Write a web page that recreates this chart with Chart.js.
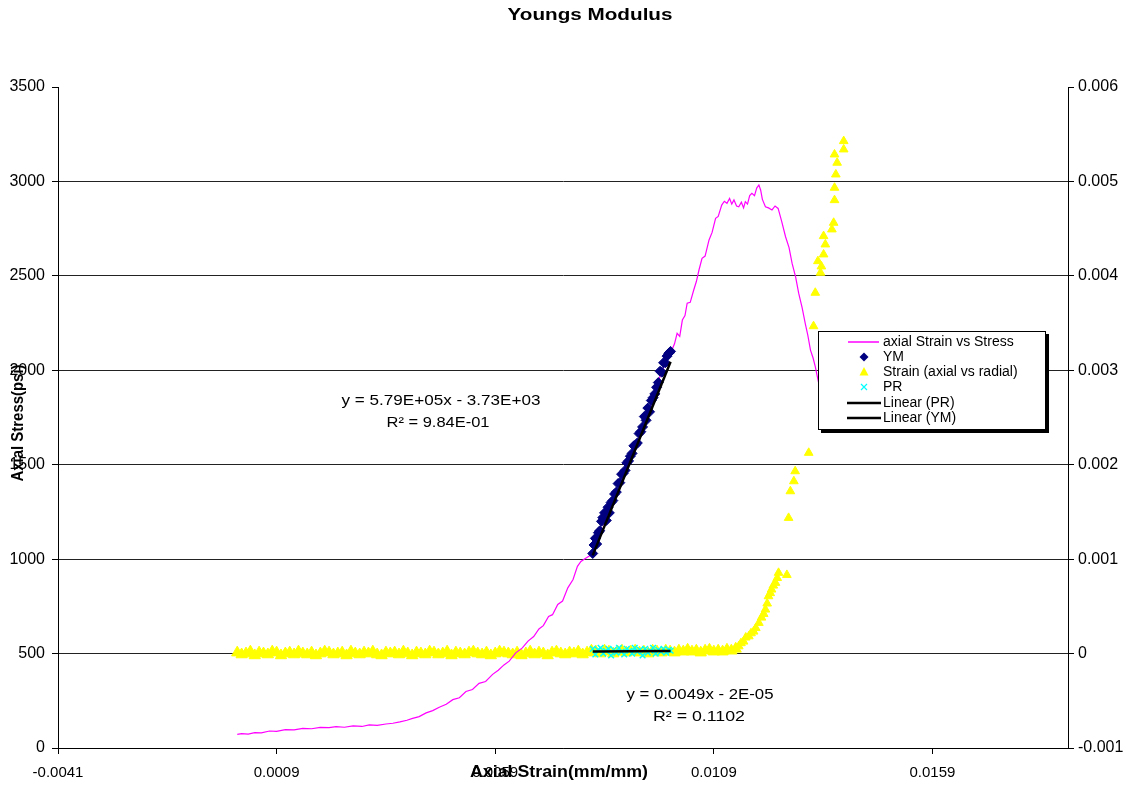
<!DOCTYPE html>
<html>
<head>
<meta charset="utf-8">
<script src="https://cdn.jsdelivr.net/npm/chart.js@4/dist/chart.umd.min.js"></script>
<style>
  html, body { margin: 0; padding: 0; background: #ffffff; }
  canvas { display: block; }
</style>
</head>
<body>
<canvas id="c" width="1129" height="788"></canvas>
<script>
// ---------- DATA ----------
const chartTitle = 'Youngs Modulus';
const xTitle = 'Axial Strain(mm/mm)';
const yTitle = 'Axial Stress(psi)';

const xTickValues = [-0.0041, 0.0009, 0.0059, 0.0109, 0.0159];
const xTickLabels = ['-0.0041', '0.0009', '0.0059', '0.0109', '0.0159'];
const yRightLabels = ['-0.001', '0', '0.001', '0.002', '0.003', '0.004', '0.005', '0.006'];

// axial Strain vs Stress (magenta line)
const strainLine = [0.00000,0.00010,0.00025,0.00040,0.00055,0.00074,0.00090,0.00110,0.00130,0.00150,
  0.00170,0.00190,0.00210,0.00226,0.00245,0.00265,0.00285,0.00302,0.00320,0.00340,
  0.00356,0.00372,0.00388,0.00401,0.00416,0.00432,0.00447,0.00462,0.00478,0.00493,
  0.00508,0.00523,0.00538,0.00553,0.00568,0.00584,0.00597,0.00610,0.00622,0.00637,
  0.00652,0.00665,0.00678,0.00690,0.00700,0.00712,0.00721,0.00733,0.00744,0.00756,
  0.00768,0.00778,0.00786,0.00796,0.00806,0.00816,0.00826,0.00838,0.00850,0.00862,
  0.00874,0.00886,0.00898,0.00910,0.00922,0.00934,0.00946,0.00958,0.00970,0.00982,
  0.00992,0.01000,0.01006,0.01012,0.01018,0.01024,0.01029,0.01036,0.01044,0.01050,
  0.01056,0.01063,0.01070,0.01079,0.01086,0.01094,0.01100,0.01108,0.01114,0.01120,
  0.01126,0.01131,0.01136,0.01142,0.01147,0.01153,0.01158,0.01162,0.01167,0.01172,
  0.01177,0.01183,0.01188,0.01193,0.01197,0.01201,0.01208,0.01215,0.01223,0.01230,
  0.01237,0.01245,0.01254,0.01262,0.01269,0.01277,0.01284,0.01292,0.01299,0.01305,
  0.01311,0.01317,0.01322,0.01330,0.01340];
const stressLine = [72,76,74,81,80,90,88,97,96,104,
  102,109,108,113,110,117,114,122,120,127,
  131,138,147,157,166,186,198,216,232,256,
  266,299,310,342,352,390,412,440,460,504,
  530,566,590,630,648,697,706,760,778,848,
  892,962,988,1004,1018,1040,1090,1170,1240,1300,
  1385,1440,1515,1575,1660,1735,1820,1900,1990,2050,
  2095,2140,2196,2180,2266,2290,2355,2360,2425,2470,
  2531,2593,2605,2690,2730,2805,2815,2875,2895,2884,
  2910,2880,2902,2870,2866,2890,2860,2893,2880,2925,
  2937,2925,2965,2981,2955,2905,2866,2860,2849,2870,
  2857,2790,2707,2650,2566,2495,2408,2330,2249,2185,
  2107,2065,2019,1930,1820];

// YM points (diamonds)
const strainYM = [0.00813,0.00816,0.00819,0.00822,0.00826,0.00829,0.00833,0.00836,0.00840,0.00844,
  0.00848,0.00851,0.00855,0.00859,0.00863,0.00867,0.00871,0.00875,0.00879,0.00883,
  0.00887,0.00891,0.00895,0.00899,0.00903,0.00907,0.00911,0.00915,0.00919,0.00923,
  0.00927,0.00931,0.00935,0.00939,0.00943,0.00947,0.00951,0.00955,0.00959,0.00963,
  0.00967,0.00971,0.00975,0.00979,0.00983,0.00987,0.00991];
const stressYM = [1030,1075,1110,1080,1140,1150,1200,1220,1245,1205,
  1275,1245,1300,1310,1345,1355,1400,1405,1450,1455,
  1470,1510,1520,1545,1560,1600,1605,1615,1665,1675,
  1700,1755,1735,1800,1780,1840,1855,1875,1910,1935,
  1995,1990,2040,2040,2075,2090,2100];

// Strain (axial vs radial) — flat part and rising part
const strainFlat = [0.0000,0.0001,0.0002,0.0003,0.0004,0.0005,0.0006,0.0007,0.0008,0.0009,
  0.0010,0.0011,0.0012,0.0013,0.0014,0.0015,0.0016,0.0017,0.0018,0.0019,
  0.0020,0.0021,0.0022,0.0023,0.0024,0.0025,0.0026,0.0027,0.0028,0.0029,
  0.0030,0.0031,0.0032,0.0033,0.0034,0.0035,0.0036,0.0037,0.0038,0.0039,
  0.0040,0.0041,0.0042,0.0043,0.0044,0.0045,0.0046,0.0047,0.0048,0.0049,
  0.0050,0.0051,0.0052,0.0053,0.0054,0.0055,0.0056,0.0057,0.0058,0.0059,
  0.0060,0.0061,0.0062,0.0063,0.0064,0.0065,0.0066,0.0067,0.0068,0.0069,
  0.0070,0.0071,0.0072,0.0073,0.0074,0.0075,0.0076,0.0077,0.0078,0.0079,
  0.0080,0.0081,0.0082,0.0083,0.0084,0.0085,0.0086,0.0087,0.0088,0.0089,
  0.0090,0.0091,0.0092,0.0093,0.0094,0.0095,0.0096,0.0097,0.0098,0.0099,
  0.0100,0.0101,0.0102,0.0103,0.0104,0.0105,0.0106,0.0107,0.0108,0.0109,
  0.0110,0.0111,0.0112,0.0113,0.0114];
const radialFlat = [1e-5,-1e-5,0,2e-5,-2e-5,1e-5,0,-1e-5,2e-5,1e-5,
  -2e-5,0,1e-5,-1e-5,2e-5,0,-1e-5,1e-5,-2e-5,0,
  2e-5,1e-5,-1e-5,0,1e-5,-2e-5,2e-5,0,-1e-5,1e-5,
  0,2e-5,-1e-5,-2e-5,1e-5,0,1e-5,-1e-5,2e-5,0,
  -2e-5,1e-5,0,-1e-5,2e-5,1e-5,-1e-5,0,2e-5,-2e-5,
  1e-5,0,-1e-5,1e-5,2e-5,0,-1e-5,1e-5,-2e-5,0,
  2e-5,1e-5,0,-1e-5,1e-5,-2e-5,0,2e-5,-1e-5,1e-5,
  0,-2e-5,1e-5,2e-5,0,-1e-5,1e-5,0,2e-5,-1e-5,
  1e-5,3e-5,2e-5,0,3e-5,2e-5,0,2e-5,3e-5,1e-5,
  2e-5,3e-5,1e-5,2e-5,0,3e-5,2e-5,1e-5,3e-5,2e-5,
  1e-5,3e-5,2e-5,4e-5,2e-5,3e-5,1e-5,3e-5,4e-5,2e-5,
  3e-5,2e-5,4e-5,3e-5,5e-5];
const strainRise = [0.01147,0.01152,0.01158,0.01163,0.01170,0.01175,0.01181,0.01186,0.01193,0.01199,
  0.01204,0.01208,0.01212,0.01215,0.01219,0.01222,0.01226,0.01231,0.01235,0.01238,
  0.01257,0.01261,0.01265,0.01273,0.01276,0.01307,0.01318,0.01322,0.01328,0.01334,
  0.01336,0.01341,0.01345,0.01341,0.01360,0.01364,0.01366,0.01366,0.01369,0.01372,
  0.01366,0.01387,0.01387];
const radialRise = [0.000077,0.000110,0.000127,0.000170,0.000183,0.000215,0.000233,0.000270,0.000325,0.000381,
  0.000420,0.000466,0.000530,0.000607,0.000640,0.000678,0.000720,0.000749,0.000800,0.000855,
  0.000833,0.001437,0.001719,0.001825,0.001931,0.002126,0.003467,0.003821,0.004156,0.004033,
  0.004100,0.004227,0.004333,0.004421,0.004492,0.004562,0.004802,0.004933,0.005074,0.005198,
  0.005286,0.005339,0.005427];

// PR points (cyan x)
const strainPR = [0.00813,0.00819,0.00825,0.00831,0.00837,0.00843,0.00849,0.00855,0.00861,0.00867,
  0.00873,0.00879,0.00885,0.00891,0.00897,0.00903,0.00909,0.00915,0.00921,0.00927,
  0.00933,0.00939,0.00945,0.00951,0.00957,0.00963,0.00969,0.00975,0.00981,0.00987,0.00991];
const radialPR = [5e-5,-1e-5,4e-5,6e-5,0,3e-5,5e-5,-2e-5,4e-5,1e-5,
  6e-5,2e-5,-1e-5,5e-5,3e-5,0,6e-5,2e-5,4e-5,-2e-5,
  5e-5,1e-5,3e-5,6e-5,0,4e-5,2e-5,5e-5,1e-5,4e-5,3e-5];

// Trend lines
const fitYMx = [0.00813, 0.00991];
const fitYMy = [1020, 2045];
const fitPRx = [0.00813, 0.00991];
const fitPRy = [0.000022, 0.000027];

const eqYM = ['y = 5.79E+05x - 3.73E+03', 'R\u00B2 = 9.84E-01'];
const eqPR = ['y = 0.0049x - 2E-05', 'R\u00B2 = 0.1102'];
const legendLabels = ['axial Strain vs Stress', 'YM', 'Strain (axial vs radial)', 'PR', 'Linear (PR)', 'Linear (YM)'];

// ---------- BUILD ----------
const pts = (xs, ys) => xs.map((x, i) => ({ x: x, y: ys[i] }));
const SANS = '"Liberation Sans", Arial, sans-serif';

function fitText(ctx, text, x, y, font, width, rotate) {
  ctx.save();
  ctx.font = font;
  ctx.fillStyle = '#000';
  ctx.textAlign = 'center';
  ctx.textBaseline = 'middle';
  const w = ctx.measureText(text).width;
  const sx = width ? width / w : 1;
  ctx.translate(x, y);
  if (rotate) ctx.rotate(-Math.PI / 2);
  ctx.scale(sx, 1);
  ctx.fillText(text, 0, 0);
  ctx.restore();
}

const overlay = {
  id: 'overlay',
  afterDraw(chart) {
    const ctx = chart.ctx;
    fitText(ctx, chartTitle, 590, 15, 'bold 17px ' + SANS, 165);
    fitText(ctx, xTitle, 559, 773, 'bold 16px ' + SANS, 178);
    fitText(ctx, yTitle, 19, 423, 'bold 16px ' + SANS, 117, true);
    fitText(ctx, eqYM[0], 441, 401, '15px ' + SANS, 199);
    fitText(ctx, eqYM[1], 438, 423, '15px ' + SANS, 103);
    fitText(ctx, eqPR[0], 700, 695, '15px ' + SANS, 147);
    fitText(ctx, eqPR[1], 699, 717, '15px ' + SANS, 92);

    const lx = 818, ly = 331, lw = 228, lh = 99;
    ctx.save();
    ctx.fillStyle = '#000';
    ctx.fillRect(lx + 3, ly + 3, lw, lh);
    ctx.fillStyle = '#fff';
    ctx.fillRect(lx, ly, lw, lh);
    ctx.strokeStyle = '#000';
    ctx.lineWidth = 1;
    ctx.strokeRect(lx + 0.5, ly + 0.5, lw - 1, lh - 1);
    const rows = [342, 357, 372, 387, 403, 418];
    const sx = 864;
    ctx.strokeStyle = '#FF00FF'; ctx.lineWidth = 1.5;
    ctx.beginPath(); ctx.moveTo(848, rows[0]); ctx.lineTo(879, rows[0]); ctx.stroke();
    ctx.fillStyle = '#000080';
    ctx.beginPath(); ctx.moveTo(sx, rows[1] - 4.5); ctx.lineTo(sx + 4.5, rows[1]); ctx.lineTo(sx, rows[1] + 4.5); ctx.lineTo(sx - 4.5, rows[1]); ctx.closePath(); ctx.fill();
    ctx.fillStyle = '#FFFF00';
    ctx.beginPath(); ctx.moveTo(sx, rows[2] - 5); ctx.lineTo(sx + 4.5, rows[2] + 3.5); ctx.lineTo(sx - 4.5, rows[2] + 3.5); ctx.closePath(); ctx.fill();
    ctx.strokeStyle = '#00FFFF'; ctx.lineWidth = 1.2;
    ctx.beginPath(); ctx.moveTo(sx - 3, rows[3] - 3); ctx.lineTo(sx + 3, rows[3] + 3); ctx.moveTo(sx + 3, rows[3] - 3); ctx.lineTo(sx - 3, rows[3] + 3); ctx.stroke();
    ctx.strokeStyle = '#000'; ctx.lineWidth = 2.5;
    ctx.beginPath(); ctx.moveTo(847, rows[4]); ctx.lineTo(881, rows[4]); ctx.stroke();
    ctx.beginPath(); ctx.moveTo(847, rows[5]); ctx.lineTo(881, rows[5]); ctx.stroke();
    ctx.fillStyle = '#000';
    ctx.font = '14px ' + SANS;
    ctx.textAlign = 'left';
    ctx.textBaseline = 'middle';
    legendLabels.forEach((t, i) => ctx.fillText(t, 883, rows[i]));
    ctx.restore();
  }
};

const tickFont = { family: SANS, size: 16 };

new Chart(document.getElementById('c'), {
  type: 'scatter',
  data: {
    datasets: [
      { label: legendLabels[0], data: pts(strainLine, stressLine), showLine: true, pointRadius: 0,
        borderColor: '#FF00FF', borderWidth: 1.2, tension: 0, yAxisID: 'y', order: 2 },
      { label: legendLabels[1], data: pts(strainYM, stressYM), pointStyle: 'rectRot', pointRadius: 5,
        backgroundColor: '#000080', borderColor: '#000080', borderWidth: 1, yAxisID: 'y', order: 1 },
      { label: legendLabels[2], data: pts(strainFlat.concat(strainRise), radialFlat.concat(radialRise)),
        pointStyle: 'triangle', pointRadius: (c) => (c.raw && c.raw.y < 0.00007) ? 6.5 : 5,
        backgroundColor: '#FFFF00', borderColor: '#FFFF00', borderWidth: 1,
        yAxisID: 'y2', order: 4 },
      { label: legendLabels[3], data: pts(strainPR, radialPR), pointStyle: 'crossRot', pointRadius: 4,
        borderColor: '#00FFFF', backgroundColor: '#00FFFF', borderWidth: 1.5, yAxisID: 'y2', order: 3 },
      { label: legendLabels[4], data: pts(fitPRx, fitPRy), showLine: true, pointRadius: 0,
        borderColor: '#000', borderWidth: 2.5, yAxisID: 'y2', order: 0 },
      { label: legendLabels[5], data: pts(fitYMx, fitYMy), showLine: true, pointRadius: 0,
        borderColor: '#000', borderWidth: 2.5, yAxisID: 'y', order: 0 }
    ]
  },
  options: {
    responsive: false,
    animation: false,
    events: [],
    layout: { padding: { top: 87, left: 0, right: 0, bottom: 0 } },
    plugins: { legend: { display: false }, title: { display: false }, tooltip: { enabled: false } },
    scales: {
      x: {
        type: 'linear', position: 'bottom', min: -0.0041, max: 0.019,
        afterBuildTicks: (s) => { s.ticks = xTickValues.map(v => ({ value: v })); },
        afterFit: (s) => { s.height = 40; },
        ticks: { callback: (v, i) => xTickLabels[i], font: { family: SANS, size: 15 }, color: '#000',
                 padding: 10, maxRotation: 0, autoSkip: false },
        grid: { drawOnChartArea: false, tickLength: 6, color: '#000' },
        border: { color: '#000', width: 1 }
      },
      y: {
        type: 'linear', position: 'left', min: 0, max: 3500,
        afterFit: (s) => { s.width = 58; },
        ticks: { stepSize: 500, callback: (v) => String(v), font: tickFont, color: '#000', padding: 7 },
        grid: { color: (c) => (c.tick && c.tick.value === 3500) ? 'rgba(0,0,0,0)' : '#222',
                tickColor: '#000', tickLength: 6, lineWidth: 1 },
        border: { color: '#000', width: 1 }
      },
      y2: {
        type: 'linear', position: 'right', min: -0.001, max: 0.006,
        afterFit: (s) => { s.width = 61; },
        ticks: { stepSize: 0.001, callback: (v, i) => yRightLabels[i], font: tickFont, color: '#000', padding: 4 },
        grid: { drawOnChartArea: false, tickLength: 6, color: '#000' },
        border: { color: '#000', width: 1 }
      }
    }
  },
  plugins: [overlay]
});
</script>
</body>
</html>
